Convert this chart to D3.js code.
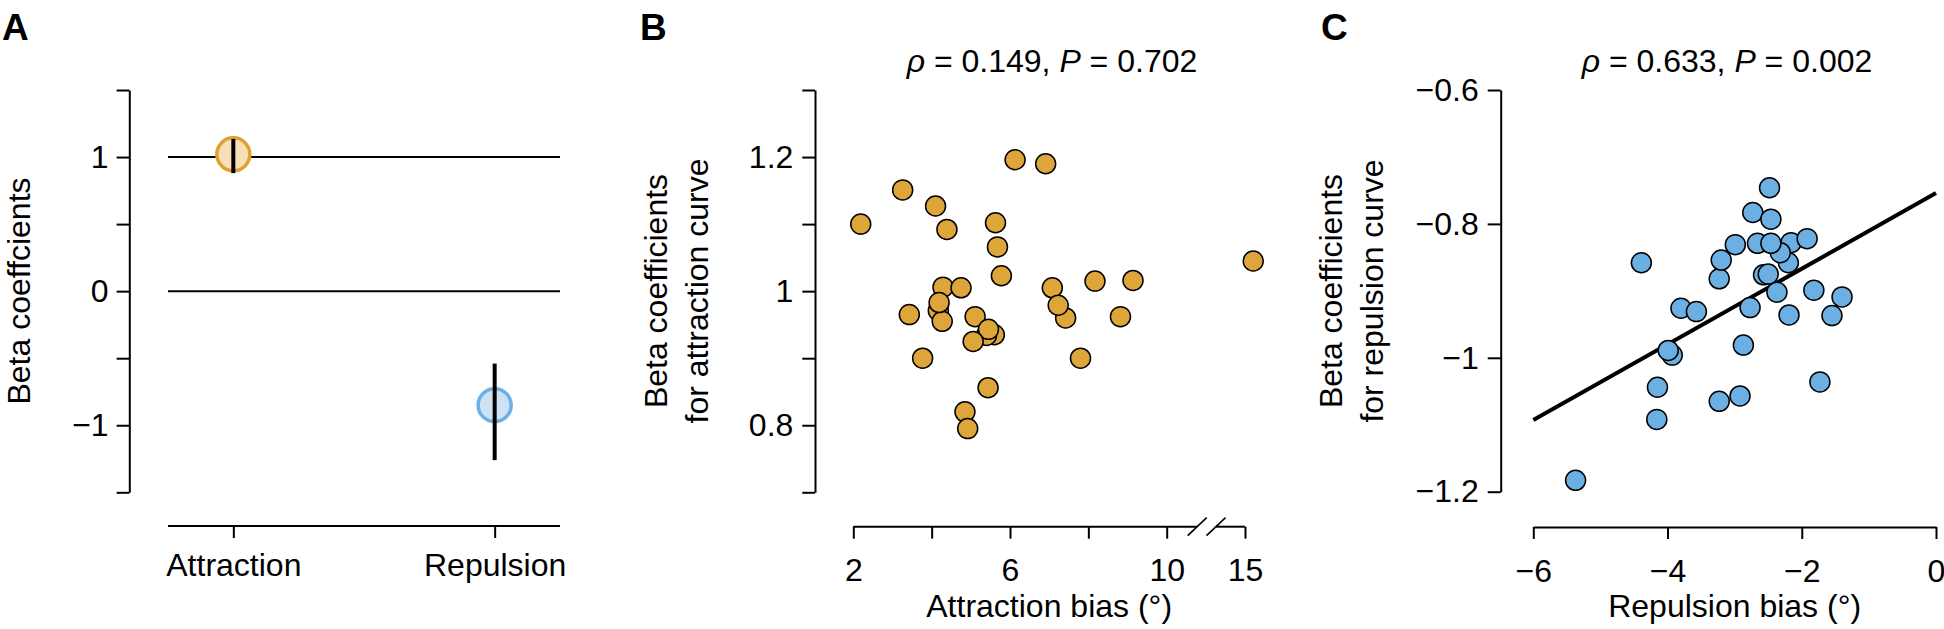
<!DOCTYPE html>
<html>
<head>
<meta charset="utf-8">
<script src="https://cdn.jsdelivr.net/npm/d3@7"></script>
<style>
  html, body { margin: 0; padding: 0; background: #fff; }
  svg { display: block; }
</style>
</head>
<body>
<svg id="chart" width="1944" height="629"></svg>
<script>
// ---------------- DATA ----------------
// Panel A
const categoriesA = ["Attraction", "Repulsion"];
const betaMeanA = [1.02, -0.85];
const betaLowA = [0.88, -1.26];
const betaHighA = [1.135, -0.54];
const yTicksA = [-1.5, -1, -0.5, 0, 0.5, 1, 1.5];
const yLabeledA = [-1, 0, 1];
const refLinesA = [1, 0];

// Panel B
const attractionBias = [2.19, 3.26, 4.10, 4.39, 6.13, 6.91, 5.63, 5.68, 5.78, 15.21, 8.17, 9.14,
  7.08, 4.29, 4.75, 4.17, 4.27, 4.19, 3.43, 7.42, 7.23, 8.82, 5.11, 5.60, 5.40, 5.45,
  5.06, 3.77, 7.80, 5.44, 4.85, 4.92];
const attractionBeta = [1.100, 1.151, 1.127, 1.092, 1.196, 1.190, 1.102, 1.066, 1.023, 1.045, 1.015, 1.016,
  1.005, 1.006, 1.005, 0.971, 0.955, 0.983, 0.965, 0.960, 0.979, 0.962, 0.962, 0.935, 0.934, 0.943,
  0.925, 0.900, 0.900, 0.856, 0.820, 0.795];
const xTicksB = [2, 4, 6, 8, 10, 15];
const xLabeledB = [2, 6, 10, 15];
const yTicksB = [0.7, 0.8, 0.9, 1.0, 1.1, 1.2, 1.3];
const yLabeledB = [0.8, 1.0, 1.2];
const titleB = { rho: "0.149", p: "0.702" };

// Panel C
const repulsionBias = [-5.37, -4.39, -4.15, -4.16, -3.93, -3.99, -3.80, -3.57, -3.23, -2.92, -3.23, -3.20,
  -2.99, -2.87, -2.77, -2.73, -2.66, -2.48, -2.46, -2.57, -2.50, -2.16, -2.20, -2.32, -2.46,
  -2.37, -2.19, -1.92, -1.82, -1.40, -1.55, -1.73];
const repulsionBeta = [-1.183, -0.858, -1.044, -1.092, -0.996, -0.989, -0.926, -0.931, -1.065, -1.057, -0.882, -0.854,
  -0.831, -0.981, -0.925, -0.783, -0.829, -0.746, -0.793, -0.876, -0.875, -0.828, -0.858, -0.843, -0.829,
  -0.902, -0.936, -0.822, -0.899, -0.909, -0.937, -1.036];
const fitX = [-6, 0];
const fitY = [-1.093, -0.754];
const xTicksC = [-6, -4, -2, 0];
const yTicksC = [-1.2, -1.0, -0.8, -0.6];
const titleC = { rho: "0.633", p: "0.002" };

// ---------------- STYLE ----------------
const FONT = "'Liberation Sans', Arial, Helvetica, sans-serif";
const FS = 32;
const AXW = 2;
const minus = s => String(s).replace("-", "\u2212");
const fmtNum = d => minus(d3.format("~g")(+d.toFixed(2)));

const svg = d3.select("#chart")
  .attr("font-family", FONT);

function styleAxis(g) {
  g.selectAll("path, line").attr("stroke", "#000").attr("stroke-width", AXW);
  g.selectAll("text").attr("font-size", FS).attr("font-family", FONT).attr("fill", "#000");
}

function panelLabel(txt, x) {
  svg.append("text").attr("x", x).attr("y", 40)
    .attr("font-size", 37).attr("font-weight", "bold").text(txt);
}

function yTitle(lines, xs, cy) {
  lines.forEach((l, i) => {
    svg.append("text")
      .attr("transform", `translate(${xs[i]},${cy}) rotate(-90)`)
      .attr("text-anchor", "middle")
      .attr("font-size", FS)
      .text(l);
  });
}

function statTitle(t, cx) {
  const tx = svg.append("text").attr("x", cx).attr("y", 72)
    .attr("text-anchor", "middle").attr("font-size", FS);
  tx.append("tspan").attr("font-style", "italic").text("\u03C1");
  tx.append("tspan").text(" = " + t.rho + ", ");
  tx.append("tspan").attr("font-style", "italic").text("P");
  tx.append("tspan").text(" = " + t.p);
}

// ---------------- PANEL A ----------------
{
  const y = d3.scaleLinear().domain([-1.5, 1.5]).range([492.3, 90]);
  const x = d3.scalePoint().domain(categoriesA).range([168, 560]).padding(0.25);
  const axisX = 129.3, baseY = 526;

  const gy = svg.append("g").attr("transform", `translate(${axisX},0)`)
    .call(d3.axisLeft(y).tickValues(yTicksA).tickSize(12.7).tickSizeOuter(0).tickPadding(8)
      .tickFormat(d => yLabeledA.includes(d) ? fmtNum(d) : ""));
  styleAxis(gy);

  // reference lines
  svg.selectAll(".refA").data(refLinesA).join("line")
    .attr("x1", 168).attr("x2", 560)
    .attr("y1", d => y(d)).attr("y2", d => y(d))
    .attr("stroke", "#000").attr("stroke-width", AXW);

  const gx = svg.append("g").attr("transform", `translate(0,${baseY})`)
    .call(d3.axisBottom(x).tickSize(12).tickSizeOuter(0).tickPadding(8));
  gx.select(".domain").attr("d", "M168,0H560");
  styleAxis(gx);
  gx.selectAll("text").attr("dy", null).attr("y", 50);

  const fills = ["#f5e0b8", "#cde2f4"];
  const strokes = ["#e0a132", "#6eb0e4"];

  const pts = categoriesA.map((c, i) => ({ c, m: betaMeanA[i], lo: betaLowA[i], hi: betaHighA[i], i }));
  svg.selectAll(".ptA").data(pts).join("circle")
    .attr("cx", d => x(d.c)).attr("cy", d => y(d.m)).attr("r", 16.5)
    .attr("fill", d => fills[d.i]).attr("stroke", d => strokes[d.i]).attr("stroke-width", 3.5);
  svg.selectAll(".errA").data(pts).join("line")
    .attr("x1", d => x(d.c)).attr("x2", d => x(d.c))
    .attr("y1", d => y(d.lo)).attr("y2", d => y(d.hi))
    .attr("stroke", "#000").attr("stroke-width", 4);

  panelLabel("A", 2);
  yTitle(["Beta coeffcients"], [30], 291);
}

// ---------------- PANEL B ----------------
{
  const y = d3.scaleLinear().domain([0.7, 1.3]).range([492.3, 90]);
  // broken axis: 10 → 15 jump compressed to a single tick step
  const x = d3.scaleLinear().domain([2, 10, 15, 17]).range([853.3, 1166.7, 1245, 1323.3]);
  const axisX = 815, baseY = 526.7;

  const gy = svg.append("g").attr("transform", `translate(${axisX},0)`)
    .call(d3.axisLeft(y).tickValues(yTicksB).tickSize(12.7).tickSizeOuter(0).tickPadding(9)
      .tickFormat(d => yLabeledB.some(v => Math.abs(v - d) < 1e-9) ? fmtNum(d) : ""));
  styleAxis(gy);

  const gx = svg.append("g").attr("transform", `translate(0,${baseY})`)
    .call(d3.axisBottom(x).tickValues(xTicksB).tickSize(12).tickSizeOuter(0)
      .tickFormat(d => xLabeledB.includes(d) ? fmtNum(d) : ""));
  gx.select(".domain").remove();
  styleAxis(gx);
  gx.selectAll("text").attr("dy", null).attr("y", 54.5);

  // axis segments around the break
  const b1 = x(10) + 30.5, b2 = x(15) - 29;
  const segs = [[x(2), b1], [b2, x(15)]];
  svg.selectAll(".segB").data(segs).join("line")
    .attr("x1", d => d[0]).attr("x2", d => d[1])
    .attr("y1", baseY).attr("y2", baseY)
    .attr("stroke", "#000").attr("stroke-width", AXW);
  svg.selectAll(".brkB").data([b1, b2]).join("line")
    .attr("x1", d => d - 9.5).attr("x2", d => d + 9.5)
    .attr("y1", baseY + 9).attr("y2", baseY - 9)
    .attr("stroke", "#000").attr("stroke-width", 1.6);

  const pts = attractionBias.map((v, i) => ({ x: v, y: attractionBeta[i] }));
  svg.selectAll(".ptB").data(pts).join("circle")
    .attr("cx", d => x(d.x)).attr("cy", d => y(d.y)).attr("r", 10)
    .attr("fill", "#dea53b").attr("stroke", "#000").attr("stroke-width", 1.5);

  svg.append("text").attr("x", (x(2) + x(15)) / 2).attr("y", 617)
    .attr("text-anchor", "middle").attr("font-size", FS).text("Attraction bias (\u00B0)");

  statTitle(titleB, 1052);
  panelLabel("B", 640);
  yTitle(["Beta coefficients", "for attraction curve"], [667, 708], 291);
}

// ---------------- PANEL C ----------------
{
  const y = d3.scaleLinear().domain([-1.2, -0.6]).range([491.7, 90]);
  const x = d3.scaleLinear().domain([-6, 0]).range([1533.3, 1936]);
  const axisX = 1500.7, baseY = 527;

  const gy = svg.append("g").attr("transform", `translate(${axisX},0)`)
    .call(d3.axisLeft(y).tickValues(yTicksC).tickSize(13).tickSizeOuter(0).tickPadding(9)
      .tickFormat(fmtNum));
  styleAxis(gy);

  const gx = svg.append("g").attr("transform", `translate(0,${baseY})`)
    .call(d3.axisBottom(x).tickValues(xTicksC).tickSize(12).tickSizeOuter(0).tickFormat(fmtNum));
  styleAxis(gx);
  gx.selectAll("text").attr("dy", null).attr("y", 54.5);

  const line = d3.line().x(d => x(d[0])).y(d => y(d[1]));
  svg.append("path").datum(fitX.map((v, i) => [v, fitY[i]]))
    .attr("d", line).attr("fill", "none").attr("stroke", "#000").attr("stroke-width", 4);

  const pts = repulsionBias.map((v, i) => ({ x: v, y: repulsionBeta[i] }));
  svg.selectAll(".ptC").data(pts).join("circle")
    .attr("cx", d => x(d.x)).attr("cy", d => y(d.y)).attr("r", 10)
    .attr("fill", "#6cb0e3").attr("stroke", "#000").attr("stroke-width", 1.5);

  svg.append("text").attr("x", (x(-6) + x(0)) / 2).attr("y", 617)
    .attr("text-anchor", "middle").attr("font-size", FS).text("Repulsion bias (\u00B0)");

  statTitle(titleC, 1727);
  panelLabel("C", 1321);
  yTitle(["Beta coefficients", "for repulsion curve"], [1342, 1383], 291);
}
</script>
</body>
</html>
